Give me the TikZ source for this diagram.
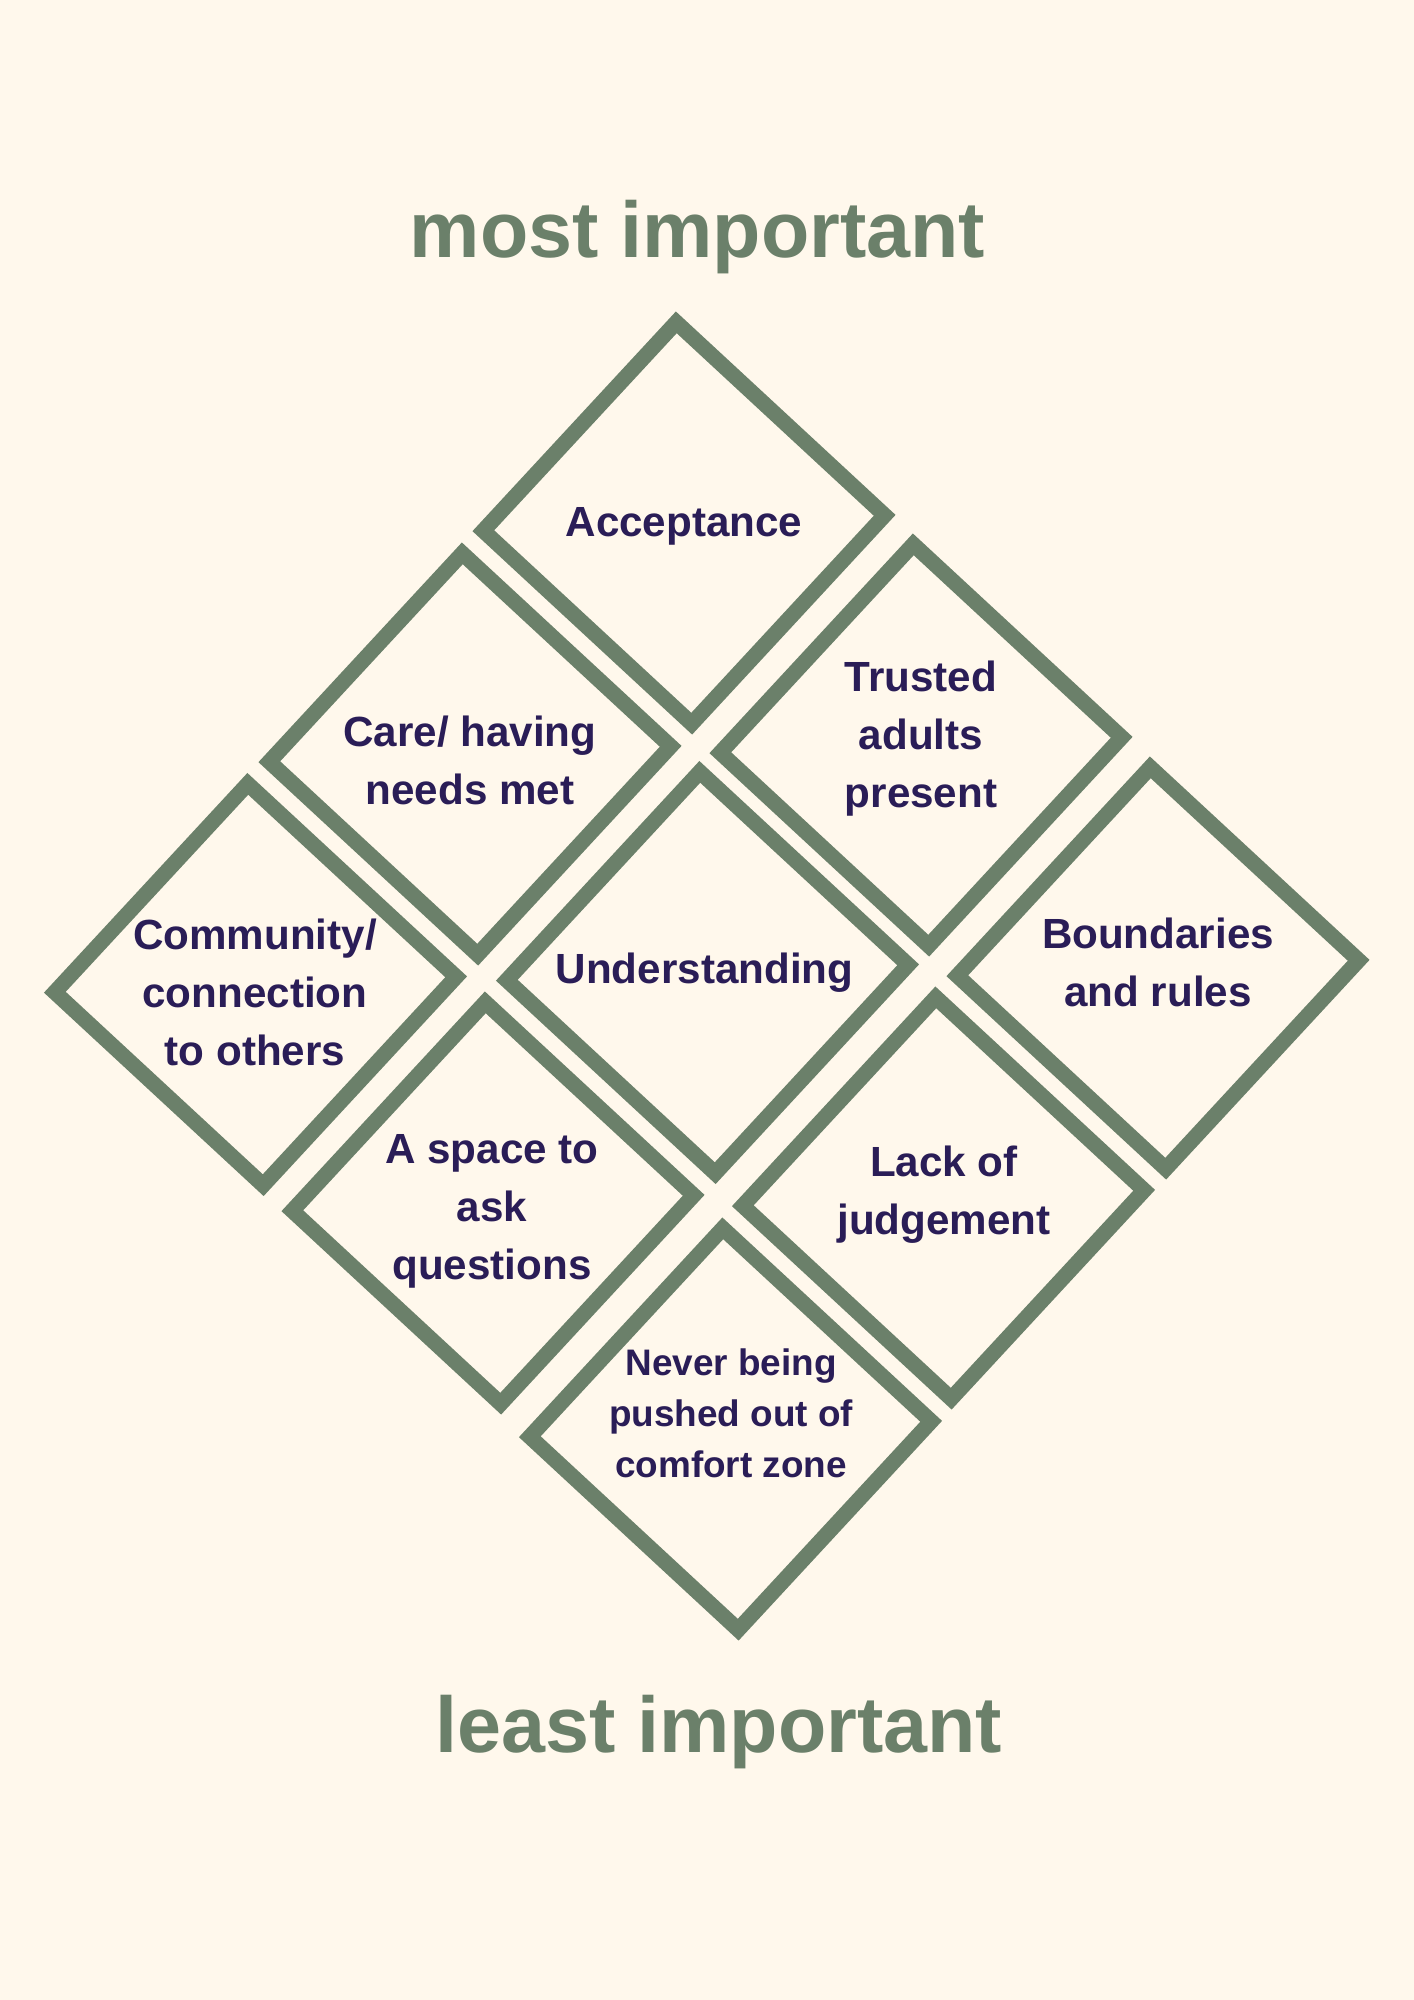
\documentclass[tikz,border=0pt]{standalone}
\usepackage{fontspec}
\setmainfont{Liberation Sans}

\definecolor{sage}{HTML}{6B806A}
\definecolor{ink}{HTML}{2A1D57}
\definecolor{cream}{HTML}{FFF8EC}

\tikzset{
  tile/.style={draw=sage,line width=1.54mm,rectangle,
               minimum size=28.4mm,inner sep=0pt,rotate=47.2},
  lbl/.style={text=ink,align=center,
              font=\fontsize{12}{16.5}\selectfont\bfseries},
  lblsmall/.style={lbl,font=\fontsize{10.5}{14.5}\selectfont\bfseries},
  ttl/.style={text=sage,font=\fontsize{22.5}{27}\selectfont\bfseries}
}

\begin{document}
\begin{tikzpicture}[x=0.1mm,y=-0.1mm]
\fill[cream] (0,0) rectangle (1414,2000);
\useasboundingbox (0,0) rectangle (1414,2000);

\node (top) at (697.5,237) [ttl] {most important};
\node (bottom) at (719,1732) [ttl] {least important};

% the diamonds, top to bottom
\node (acc) at (684,523) [tile] {};
\node (care) at (470,754) [tile] {};
\node (trust) at (921,745) [tile] {};
\node (comm) at (255.5,984.5) [tile] {};
\node (und) at (707.5,972.5) [tile] {};
\node (bound) at (1158,968) [tile] {};
\node (space) at (493,1203) [tile] {};
\node (lack) at (943.5,1198) [tile] {};
\node (never) at (730.5,1429) [tile] {};

% what is written in them
\node (acc-t) at (684,526.7) [lbl] {Acceptance};
\node (care-t) at (470,760) [lbl] {Care/ having\\needs met};
\node (trust-t) at (921,738.4) [lbl] {Trusted\\adults\\present};
\node (comm-t) at (255,992) [lbl] {Community/\\connection\\to others};
\node (und-t) at (704.5,972.7) [lbl] {Understanding};
\node (bound-t) at (1158,962) [lbl] {Boundaries\\and rules};
\node (space-t) at (492,1211) [lbl] {A space to\\ask\\questions};
\node (lack-t) at (944,1194.5) [lbl] {Lack of\\judgement};
\node (never-t) at (731,1413.5) [lblsmall]
   {Never being\\pushed out of\\comfort zone};
\end{tikzpicture}
\end{document}
